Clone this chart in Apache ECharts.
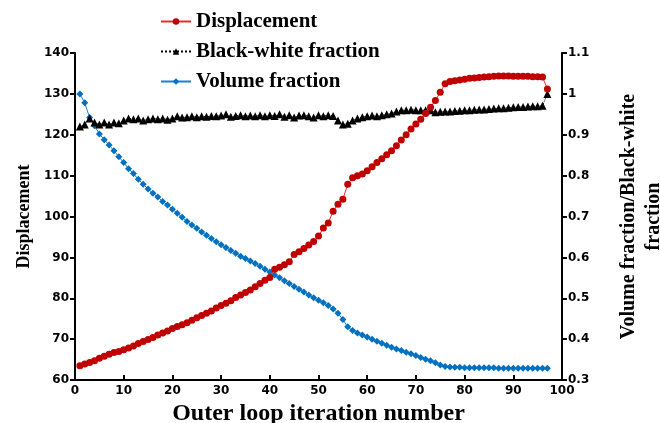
<!DOCTYPE html>
<html>
<head>
	<meta charset="utf-8">
	<title>Displacement / fraction</title>
	<style>
		html, body { margin: 0; padding: 0; background: #fff; }
	</style>
</head>
<body>
	<div style="width:660px;height:423px;" id="chart1"></div>

	<script src="https://cdn.jsdelivr.net/npm/echarts@6/dist/echarts.min.js"></script>
	<script>
	// iterations 1..97
	var iterations = [];
	for (var i = 1; i <= 97; i++) iterations.push(i);

	var displacement = [
		63.5, 63.9, 64.3, 64.7, 65.3, 65.8, 66.3, 66.7, 67.0, 67.4,
		67.8, 68.3, 68.9, 69.4, 69.9, 70.4, 71.0, 71.5, 72.0, 72.6,
		73.1, 73.5, 74.0, 74.6, 75.2, 75.8, 76.3, 76.9, 77.6, 78.2,
		78.8, 79.4, 80.2, 80.8, 81.4, 82.0, 82.8, 83.6, 84.4, 85.1,
		87.1, 87.6, 88.2, 88.9, 90.7, 91.4, 92.2, 93.0, 93.9, 95.2,
		97.2, 98.4, 101.3, 103.0, 104.2, 107.9, 109.5, 110.0, 110.4, 111.2,
		112.2, 113.2, 114.1, 115.1, 116.1, 117.3, 118.7, 120.0, 121.4, 122.6,
		123.8, 125.2, 126.7, 128.4, 130.4, 132.5, 133.0, 133.2, 133.4, 133.6,
		133.8, 133.9, 134.0, 134.1, 134.2, 134.3, 134.4, 134.4, 134.4, 134.3,
		134.3, 134.3, 134.3, 134.2, 134.2, 134.1, 131.2
	];

	var blackWhite = [
		0.920, 0.925, 0.940, 0.930, 0.925, 0.930, 0.925, 0.930, 0.928, 0.935,
		0.940, 0.938, 0.940, 0.935, 0.938, 0.940, 0.938, 0.940, 0.937, 0.940,
		0.945, 0.942, 0.943, 0.945, 0.943, 0.945, 0.944, 0.946, 0.945, 0.947,
		0.950, 0.944, 0.946, 0.948, 0.945, 0.947, 0.945, 0.948, 0.945, 0.948,
		0.946, 0.950, 0.944, 0.948, 0.942, 0.947, 0.948, 0.945, 0.942, 0.948,
		0.945, 0.948, 0.946, 0.935, 0.925, 0.927, 0.935, 0.940, 0.943, 0.945,
		0.947, 0.945, 0.948, 0.950, 0.952, 0.957, 0.960, 0.960, 0.961, 0.960,
		0.960, 0.960, 0.960, 0.955, 0.956, 0.957, 0.957, 0.958, 0.959, 0.960,
		0.960, 0.961, 0.962, 0.962, 0.963, 0.964, 0.965, 0.965, 0.966, 0.967,
		0.968, 0.968, 0.969, 0.970, 0.970, 0.971, 1.000
	];

	var volumeFraction = [
		1.000, 0.978, 0.942, 0.922, 0.902, 0.888, 0.875, 0.861, 0.846, 0.832,
		0.817, 0.805, 0.791, 0.779, 0.767, 0.757, 0.748, 0.737, 0.728, 0.718,
		0.708, 0.698, 0.688, 0.679, 0.671, 0.662, 0.654, 0.646, 0.638, 0.631,
		0.624, 0.617, 0.610, 0.603, 0.597, 0.591, 0.585, 0.578, 0.571, 0.564,
		0.557, 0.550, 0.543, 0.536, 0.529, 0.522, 0.515, 0.508, 0.501, 0.495,
		0.489, 0.482, 0.474, 0.463, 0.448, 0.430, 0.421, 0.415, 0.410, 0.405,
		0.400, 0.395, 0.390, 0.385, 0.380, 0.376, 0.372, 0.368, 0.364, 0.360,
		0.355, 0.351, 0.347, 0.342, 0.337, 0.333, 0.332, 0.331, 0.331, 0.330,
		0.330, 0.330, 0.330, 0.330, 0.330, 0.330, 0.329, 0.329, 0.329, 0.329,
		0.329, 0.329, 0.329, 0.329, 0.329, 0.329, 0.329
	];

	function pairs(ys) {
		var out = [];
		for (var i = 0; i < ys.length; i++) out.push([iterations[i], ys[i]]);
		return out;
	}

	var serif = '"Liberation Serif", "Times New Roman", serif';
	var sans = '"DejaVu Sans", Verdana, sans-serif';

	var myChart = echarts.init(document.getElementById('chart1'));

	var option = {
		animation: false,
		grid: { left: 75, right: 98, top: 53, bottom: 43, containLabel: false, outerBoundsMode: 'none' },
		legend: {
			orient: 'vertical',
			left: 155,
			top: 6,
			itemGap: 9,
			itemWidth: 30,
			itemHeight: 8,
			textStyle: { fontFamily: serif, fontWeight: 'bold', fontSize: 21, color: '#000' },
			data: ['Displacement', 'Black-white fraction', 'Volume fraction']
		},
		xAxis: {
			type: 'value',
			min: 0, max: 100, interval: 10,
			name: 'Outer loop iteration number',
			nameLocation: 'middle',
			nameGap: 21,
			nameTextStyle: { fontFamily: serif, fontWeight: 'bold', fontSize: 24, color: '#000' },
			axisLine: { lineStyle: { color: '#000', width: 2 } },
			axisTick: { inside: true, length: 5, lineStyle: { color: '#000', width: 2 } },
			axisLabel: { fontFamily: sans, fontWeight: 'bold', fontSize: 12, color: '#000', margin: 5 },
			splitLine: { show: false }
		},
		yAxis: [{
			type: 'value',
			min: 60, max: 140, interval: 10,
			name: 'Displacement',
			nameLocation: 'middle',
			nameGap: 39,
			nameTextStyle: { fontFamily: serif, fontWeight: 'bold', fontSize: 18, color: '#000' },
			axisLine: { show: true, lineStyle: { color: '#000', width: 2 } },
			axisTick: { show: true, length: 5, lineStyle: { color: '#000', width: 2 } },
			axisLabel: { fontFamily: sans, fontWeight: 'bold', fontSize: 12, color: '#000', margin: 6 },
			splitLine: { show: false }
		}, {
			type: 'value',
			min: 0.3, max: 1.1, interval: 0.1,
			position: 'right',
			name: 'Volume fraction/Black-white\nfraction',
			nameLocation: 'middle',
			nameGap: 54,
			nameRotate: 90,
			nameTextStyle: { fontFamily: serif, fontWeight: 'bold', fontSize: 20, color: '#000', lineHeight: 25 },
			axisLine: { show: true, lineStyle: { color: '#000', width: 2 } },
			axisTick: { show: true, length: 5, lineStyle: { color: '#000', width: 2 } },
			axisLabel: {
				fontFamily: sans, fontWeight: 'bold', fontSize: 12, color: '#000', margin: 6,
				formatter: function (v) { return String(Math.round(v * 10) / 10); }
			},
			splitLine: { show: false }
		}],
		series: [{
			name: 'Displacement',
			type: 'line',
			yAxisIndex: 0,
			data: pairs(displacement),
			symbol: 'circle',
			symbolSize: 7,
			itemStyle: { color: '#c00000' },
			lineStyle: { color: '#e03030', width: 1 },
			z: 3
		}, {
			name: 'Black-white fraction',
			type: 'line',
			yAxisIndex: 1,
			data: pairs(blackWhite),
			symbol: 'triangle',
			symbolSize: 8,
			itemStyle: { color: '#000' },
			lineStyle: { color: '#000', width: 1, type: 'dotted' },
			z: 2
		}, {
			name: 'Volume fraction',
			type: 'line',
			yAxisIndex: 1,
			data: pairs(volumeFraction),
			symbol: 'diamond',
			symbolSize: 7,
			itemStyle: { color: '#0070c0' },
			lineStyle: { color: '#1a80d0', width: 1 },
			z: 1
		}]
	};

	myChart.setOption(option);
	</script>
</body>
</html>
